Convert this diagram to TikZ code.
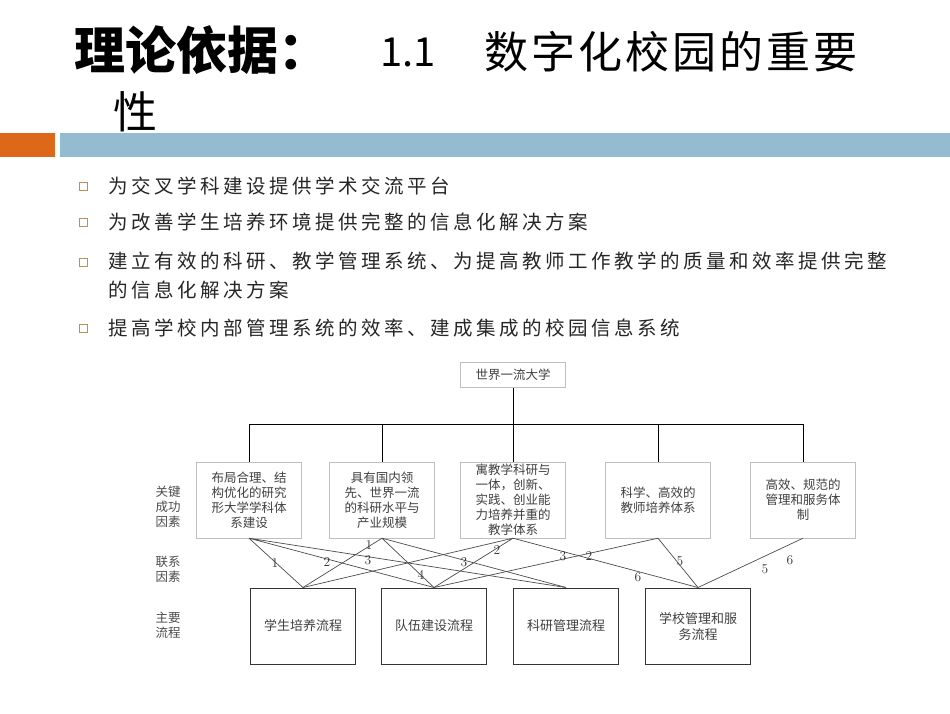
\documentclass[tikz,border=0pt]{standalone}
\usepackage{fontspec}
\newfontfamily\cjk{Noto Sans CJK SC}
\newfontfamily\cjkb[LetterSpace=18]{Noto Sans CJK SC}
\newfontfamily\cjkt[LetterSpace=7]{Noto Sans CJK SC}
\begin{document}
\begin{tikzpicture}[x=1pt,y=-1pt,
  bx/.style={draw=black!25,fill=white,minimum width=105pt,minimum height=76pt,inner sep=1pt,align=center,font=\cjk\fontsize{12.5}{15}\selectfont,text=black!75},
  pb/.style={draw=black!80,line width=1pt,minimum width=105pt,minimum height=76pt,align=center,font=\cjk\fontsize{13}{16}\selectfont,text=black!75},
  ln/.style={draw=black!70,line width=0.7pt},
  num/.style={font=\fontsize{13.5}{13}\selectfont,text=black!80},
  side/.style={font=\cjk\fontsize{12.5}{15}\selectfont,align=center,text=black!70},
  bul/.style={font=\cjkb\fontsize{19.5}{29}\selectfont,anchor=west,align=left,text=black!85}]
\useasboundingbox (0,0) rectangle (950,713);
\fill[white] (0,0) rectangle (950,713);
\node[anchor=west,inner sep=0pt,font=\cjk\bfseries\fontsize{51}{51}\selectfont] (t1) at (74,50) {理论依据：};
\node[anchor=west,inner sep=0pt,font=\cjk\fontsize{40}{40}\selectfont] (t2) at (380,52) {1.1};
\node[anchor=west,inner sep=0pt,font=\cjkt\fontsize{44}{44}\selectfont] (t4) at (484,52) {数字化校园的重要};
\node[anchor=west,inner sep=0pt,font=\cjk\fontsize{44}{44}\selectfont] (t3) at (113,112) {性};
\fill[orange!80!red!85!black!90] (0,133) rectangle (55,157);
\fill[blue!35!cyan!40!gray!60] (60,133) rectangle (950,157);
\foreach \yy in {186,222,262,328}{\draw[orange!70!black!70,line width=0.6pt] (79,\yy-4) rectangle (87,\yy+4);}
\node[bul,inner sep=0pt] (b1) at (108,186) {为交叉学科建设提供学术交流平台};
\node[bul,inner sep=0pt] (b2) at (108,222) {为改善学生培养环境提供完整的信息化解决方案};
\node[bul,inner sep=0pt] (b3) at (108,276) {建立有效的科研、教学管理系统、为提高教师工作教学的质量和效率提供完整\\的信息化解决方案};
\node[bul,inner sep=0pt] (b4) at (108,328) {提高学校内部管理系统的效率、建成集成的校园信息系统};
% diagram
\node[bx,minimum height=25pt] (top) at (513,375) {世界一流大学};
\node[bx] (k1) at (249,500) {布局合理、结\\构优化的研究\\形大学学科体\\系建设};
\node[bx] (k2) at (382,500) {具有国内领\\先、世界一流\\的科研水平与\\产业规模};
\node[bx] (k3) at (513,500) {寓教学科研与\\一体，创新、\\实践、创业能\\力培养并重的\\教学体系};
\node[bx] (k4) at (658,500) {科学、高效的\\教师培养体系};
\node[bx] (k5) at (803,500) {高效、规范的\\管理和服务体\\制};
\node[pb] (p1) at (303,626) {学生培养流程};
\node[pb] (p2) at (434,626) {队伍建设流程};
\node[pb] (p3) at (566,626) {科研管理流程};
\node[pb] (p4) at (698,626) {学校管理和服\\务流程};
\coordinate (bus) at (513,424);
\draw[black,line width=0.8pt] (top.south) -- (bus);
\draw[black,line width=0.8pt] (k1.north|-bus) -- (k5.north|-bus);
\foreach \k in {k1,k2,k3,k4,k5}{\draw[black,line width=0.8pt] (\k.north|-bus) -- (\k.north);}
\draw[ln] (k1.south) -- (p1.north) (k1.south) -- (p2.north) (k1.south) -- (p3.north);
\draw[ln] (k2.south) -- (p1.north) (k2.south) -- (p2.north) (k2.south) -- (p3.north);
\draw[ln] (k3.south) -- (p1.north) (k3.south) -- (p2.north) (k3.south) -- (p4.north);
\draw[ln] (k4.south) -- (p2.north) (k4.south) -- (p4.north);
\draw[ln] (k5.south) -- (p4.north);
\node[num] (n1) at (275,563) {1};
\node[num] (n2) at (327,562) {2};
\node[num] (n3) at (368,560) {3};
\node[num] (n4) at (369,545) {1};
\node[num] (n5) at (421,575) {4};
\node[num] (n6) at (464,562) {3};
\node[num] (n7) at (497,550) {2};
\node[num] (n8) at (563,556) {3};
\node[num] (n9) at (589,556) {2};
\node[num] (n10) at (638,577) {6};
\node[num] (n11) at (680,561) {5};
\node[num] (n12) at (765,569) {5};
\node[num] (n13) at (790,560) {6};
\node[side] (s1) at (168,507) {关键\\成功\\因素};
\node[side] (s2) at (168,569) {联系\\因素};
\node[side] (s3) at (168,625) {主要\\流程};
\end{tikzpicture}
\end{document}
